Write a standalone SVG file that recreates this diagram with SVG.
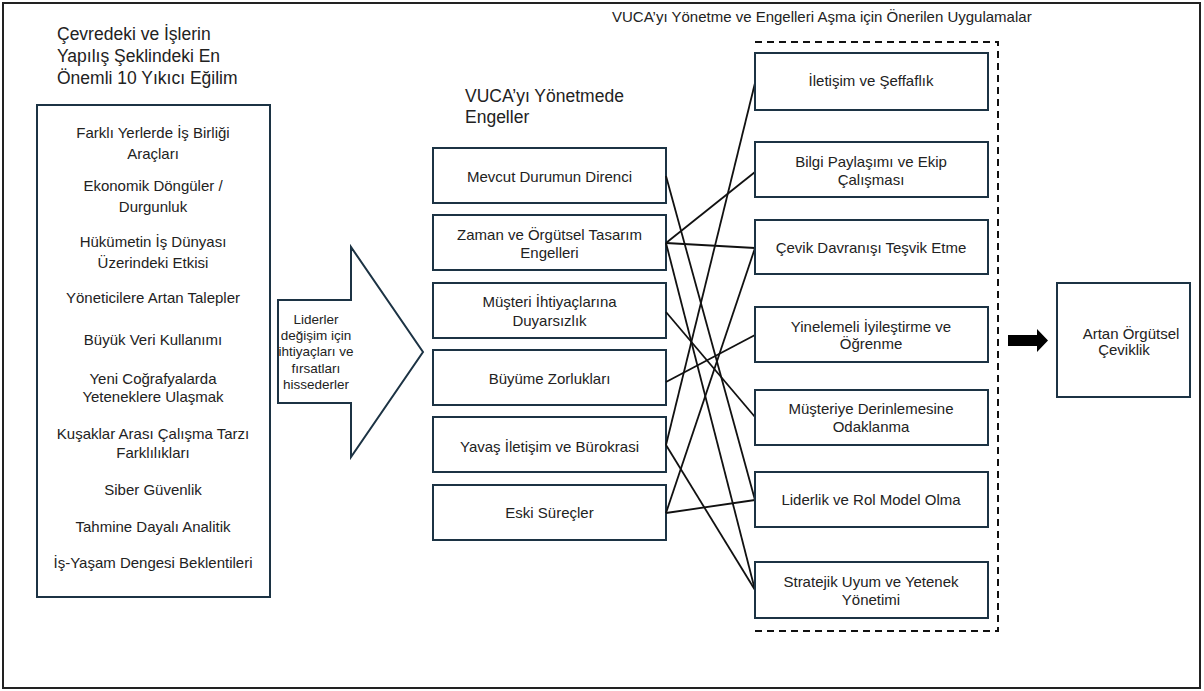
<svg xmlns="http://www.w3.org/2000/svg" width="1204" height="691" viewBox="0 0 1204 691">
  <style>
    text { font-family: "Liberation Sans", Arial, sans-serif; fill: #222; }
    .t { font-size: 17.5px; }
    .top { font-size: 15px; }
    .b { font-size: 15px; text-anchor: middle; }
    .a { font-size: 13.5px; text-anchor: middle; }
    .box { fill: #fff; stroke: #1c3344; stroke-width: 2; }
    .link { stroke: #111; stroke-width: 1.8; fill: none; }
  </style>

  <rect x="0" y="0" width="1204" height="691" fill="#fff"/>
  <!-- outer frame -->
  <rect x="3" y="3" width="1197" height="685" fill="none" stroke="#222" stroke-width="2"/>

  <!-- section headings -->
  <g id="heading-trends">
    <text class="t" x="57" y="40">Çevredeki ve İşlerin</text>
    <text class="t" x="57" y="62">Yapılış Şeklindeki En</text>
    <text class="t" x="57" y="84">Önemli 10 Yıkıcı Eğilim</text>
  </g>
  <g id="heading-barriers">
    <text class="t" x="465" y="102">VUCA’yı Yönetmede</text>
    <text class="t" x="465" y="123">Engeller</text>
  </g>
  <g id="heading-practices">
    <text class="top" x="612" y="22">VUCA’yı Yönetme ve Engelleri Aşma için Önerilen Uygulamalar</text>
  </g>

  <!-- trends list -->
  <g id="trends">
    <rect class="box" x="37" y="105" width="233" height="492"/>
    <text class="b" x="153" y="138">Farklı Yerlerde İş Birliği</text>
    <text class="b" x="153" y="159">Araçları</text>
    <text class="b" x="153" y="191">Ekonomik Döngüler /</text>
    <text class="b" x="153" y="212">Durgunluk</text>
    <text class="b" x="153" y="247">Hükümetin İş Dünyası</text>
    <text class="b" x="153" y="268">Üzerindeki Etkisi</text>
    <text class="b" x="153" y="303">Yöneticilere Artan Talepler</text>
    <text class="b" x="153" y="345">Büyük Veri Kullanımı</text>
    <text class="b" x="153" y="384">Yeni Coğrafyalarda</text>
    <text class="b" x="153" y="402">Yeteneklere Ulaşmak</text>
    <text class="b" x="153" y="439">Kuşaklar Arası Çalışma Tarzı</text>
    <text class="b" x="153" y="458">Farklılıkları</text>
    <text class="b" x="153" y="495">Siber Güvenlik</text>
    <text class="b" x="153" y="532">Tahmine Dayalı Analitik</text>
    <text class="b" x="153" y="568">İş-Yaşam Dengesi Beklentileri</text>
  </g>

  <!-- block arrow -->
  <g id="sense-arrow">
    <polygon class="box" points="278,300 351,300 351,247 423,352 351,457 351,403 278,403"/>
    <text class="a" x="316" y="324">Liderler</text>
    <text class="a" x="316" y="340">değişim için</text>
    <text class="a" x="316" y="356">ihtiyaçları ve</text>
    <text class="a" x="316" y="373">fırsatları</text>
    <text class="a" x="316" y="389">hissederler</text>
  </g>

  <!-- barriers -->
  <g id="barrier-1">
    <rect class="box" x="433" y="148" width="233" height="55"/>
    <text class="b" x="549.5" y="182">Mevcut Durumun Direnci</text>
  </g>
  <g id="barrier-2">
    <rect class="box" x="433" y="215" width="233" height="55"/>
    <text class="b" x="549.5" y="240">Zaman ve Örgütsel Tasarım</text>
    <text class="b" x="549.5" y="258">Engelleri</text>
  </g>
  <g id="barrier-3">
    <rect class="box" x="433" y="283" width="233" height="55"/>
    <text class="b" x="549.5" y="307">Müşteri İhtiyaçlarına</text>
    <text class="b" x="549.5" y="326">Duyarsızlık</text>
  </g>
  <g id="barrier-4">
    <rect class="box" x="433" y="350" width="233" height="55"/>
    <text class="b" x="549.5" y="384">Büyüme Zorlukları</text>
  </g>
  <g id="barrier-5">
    <rect class="box" x="433" y="417" width="233" height="55"/>
    <text class="b" x="549.5" y="452">Yavaş İletişim ve Bürokrasi</text>
  </g>
  <g id="barrier-6">
    <rect class="box" x="433" y="485" width="233" height="55"/>
    <text class="b" x="549.5" y="518">Eski Süreçler</text>
  </g>

  <!-- practices frame (open on the left) -->
  <path d="M755,42 H998 V631 H755" fill="none" stroke="#111" stroke-width="2" stroke-dasharray="7,5"/>

  <!-- connectors -->
  <g id="connectors">
    <line class="link" x1="666" y1="243" x2="755" y2="172"/>
    <line class="link" x1="666" y1="243" x2="755" y2="248"/>
    <line class="link" x1="666" y1="243" x2="755" y2="590"/>
    <line class="link" x1="666" y1="445" x2="755" y2="83"/>
    <line class="link" x1="666" y1="445" x2="755" y2="590"/>
    <line class="link" x1="666" y1="176" x2="755" y2="500"/>
    <line class="link" x1="666" y1="513" x2="755" y2="248"/>
    <line class="link" x1="666" y1="513" x2="755" y2="500"/>
    <line class="link" x1="666" y1="312" x2="755" y2="417"/>
    <line class="link" x1="666" y1="382" x2="755" y2="335"/>
  </g>

  <!-- practices -->
  <g id="practice-1">
    <rect class="box" x="755" y="53" width="233" height="57"/>
    <text class="b" x="871" y="86">İletişim ve Şeffaflık</text>
  </g>
  <g id="practice-2">
    <rect class="box" x="755" y="142" width="233" height="55"/>
    <text class="b" x="871" y="167">Bilgi Paylaşımı ve Ekip</text>
    <text class="b" x="871" y="185">Çalışması</text>
  </g>
  <g id="practice-3">
    <rect class="box" x="755" y="220" width="233" height="54"/>
    <text class="b" x="871" y="253">Çevik Davranışı Teşvik Etme</text>
  </g>
  <g id="practice-4">
    <rect class="box" x="755" y="307" width="233" height="55"/>
    <text class="b" x="871" y="332">Yinelemeli İyileştirme ve</text>
    <text class="b" x="871" y="349">Öğrenme</text>
  </g>
  <g id="practice-5">
    <rect class="box" x="755" y="390" width="233" height="55"/>
    <text class="b" x="871" y="414">Müşteriye Derinlemesine</text>
    <text class="b" x="871" y="432">Odaklanma</text>
  </g>
  <g id="practice-6">
    <rect class="box" x="755" y="472" width="233" height="55"/>
    <text class="b" x="871" y="505">Liderlik ve Rol Model Olma</text>
  </g>
  <g id="practice-7">
    <rect class="box" x="755" y="562" width="233" height="56"/>
    <text class="b" x="871" y="587">Stratejik Uyum ve Yetenek</text>
    <text class="b" x="871" y="605">Yönetimi</text>
  </g>

  <!-- outcome arrow -->
  <g id="outcome-arrow">
    <polygon points="1008,335 1037,335 1037,329 1048,340.5 1037,352 1037,346 1008,346" fill="#000"/>
  </g>

  <!-- outcome -->
  <g id="outcome">
    <rect class="box" x="1057" y="283" width="133" height="114"/>
    <text class="b" x="1131" y="339">Artan Örgütsel</text>
    <text class="b" x="1124" y="355">Çeviklik</text>
  </g>
</svg>
